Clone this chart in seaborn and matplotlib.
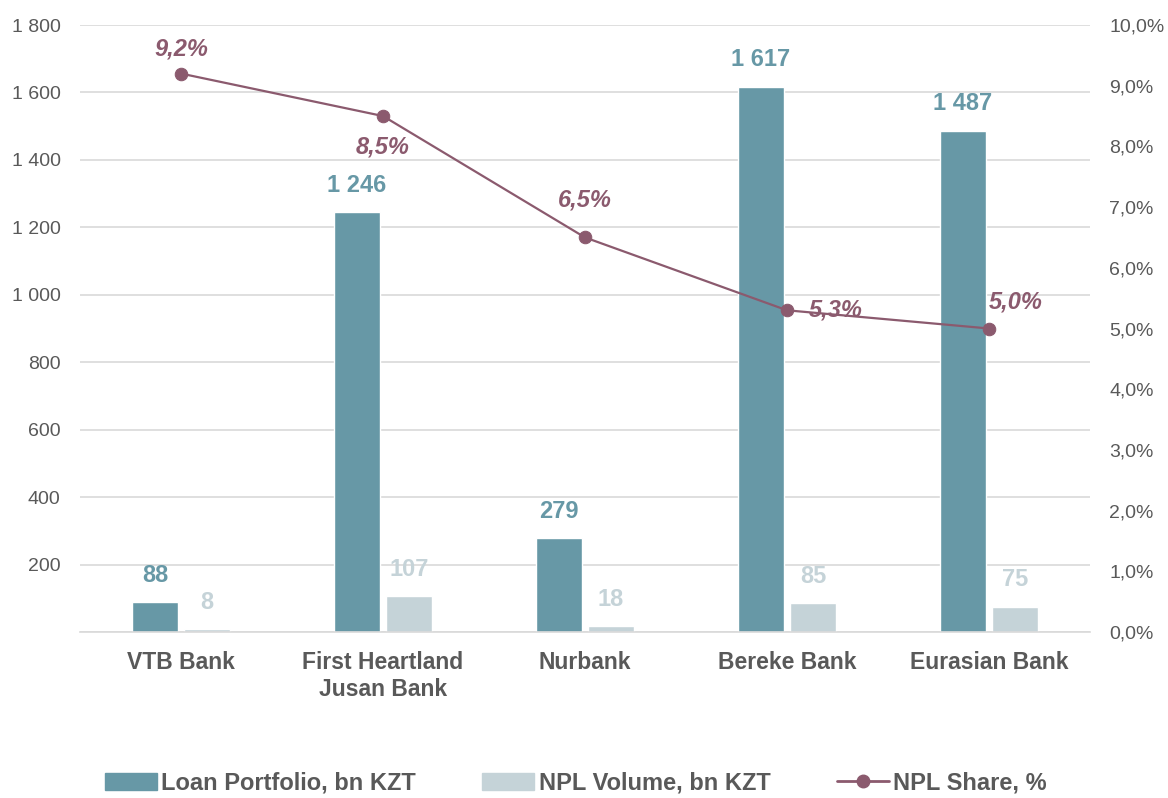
import matplotlib.pyplot as plt
import pandas as pd
import seaborn as sns
from matplotlib.lines import Line2D
from matplotlib.patches import Patch
from matplotlib.ticker import FuncFormatter, MultipleLocator

sns.set_theme(style="white")
plt.rcParams["font.family"] = ["Liberation Sans Narrow", "Liberation Sans", "DejaVu Sans"]

# Data
banks = ["VTB Bank", "First Heartland\nJusan Bank", "Nurbank", "Bereke Bank", "Eurasian Bank"]
loan_portfolio = [88, 1246, 279, 1617, 1487]
npl_volume = [8, 107, 18, 85, 75]
npl_share = [9.2, 8.5, 6.5, 5.3, 5.0]

LOAN_NAME = "Loan Portfolio, bn KZT"
NPL_NAME = "NPL Volume, bn KZT"
SHARE_NAME = "NPL Share, %"

LOAN_COLOR = "#6798a6"
NPL_COLOR = "#c5d3d8"
LINE_COLOR = "#8b5a6e"
TEXT_COLOR = "#595959"

df = pd.DataFrame({"bank": banks, LOAN_NAME: loan_portfolio, NPL_NAME: npl_volume})
df_long = df.melt(id_vars="bank", var_name="series", value_name="value")
df_line = pd.DataFrame({"bank": banks, "share": npl_share})

fig = plt.figure(figsize=(11.68, 7.98), dpi=100)
ax = fig.add_axes([80 / 1168, 1 - 632 / 798, 1010 / 1168, 607 / 798])

sns.barplot(
    data=df_long, x="bank", y="value", hue="series",
    palette=[LOAN_COLOR, NPL_COLOR], width=0.515, gap=0.12, saturation=1,
    ax=ax, legend=False, errorbar=None,
)

def space_fmt(v):
    return f"{int(round(v)):,}".replace(",", " ")

for cont, col in zip(ax.containers, [LOAN_COLOR, NPL_COLOR]):
    ax.bar_label(cont, labels=[space_fmt(b.get_height()) for b in cont],
                 padding=11, color=col, fontsize=17, fontweight="bold")

ax.set_ylim(0, 1800)
ax.yaxis.set_major_locator(MultipleLocator(200))
ax.yaxis.set_major_formatter(FuncFormatter(lambda v, p: "" if v == 0 else space_fmt(v)))
ax.grid(axis="y", color="#d9d9d9", linewidth=1.2)
ax.set_axisbelow(True)
ax.set_xlabel("")
ax.set_ylabel("")
for s in ["top", "right", "left"]:
    ax.spines[s].set_visible(False)
ax.spines["bottom"].set_color("#d9d9d9")
ax.spines["bottom"].set_linewidth(1.2)
ax.tick_params(axis="y", labelsize=14, colors=TEXT_COLOR, length=0, pad=14)
ax.tick_params(axis="x", labelsize=16.5, colors=TEXT_COLOR, length=0, pad=14)
for t in ax.get_xticklabels():
    t.set_fontweight("bold")
ax.set_xlim(-0.5, len(banks) - 0.5)

ax2 = ax.twinx()
sns.lineplot(data=df_line, x="bank", y="share", ax=ax2, color=LINE_COLOR,
             marker="o", markersize=9, linewidth=1.6, markeredgecolor=LINE_COLOR, sort=False)
ax2.set_ylim(0, 10)
ax2.yaxis.set_major_locator(MultipleLocator(1))
ax2.yaxis.set_major_formatter(FuncFormatter(lambda v, p: f"{v:.1f}%".replace(".", ",")))
ax2.tick_params(axis="y", labelsize=14, colors=TEXT_COLOR, length=0, pad=14)
ax2.set_ylabel("")
ax2.set_xlabel("")
for s in ax2.spines.values():
    s.set_visible(False)
ax2.grid(False)

offsets = [(0, 18), (0, -22), (0, 27), (35, 0), (19, 19)]
for i, (v, off) in enumerate(zip(npl_share, offsets)):
    ax2.annotate(f"{v:.1f}%".replace(".", ","), (i, v), xytext=off, textcoords="offset points",
                 ha="center", va="center", color=LINE_COLOR, fontsize=17,
                 fontweight="bold", fontstyle="italic")

handles = [
    Patch(color=LOAN_COLOR, label=LOAN_NAME),
    Patch(color=NPL_COLOR, label=NPL_NAME),
    Line2D([0], [0], color=LINE_COLOR, marker="o", markersize=9, linewidth=2, label=SHARE_NAME),
]
leg = fig.legend(handles=handles, loc="center", bbox_to_anchor=(0.493, 1 - 783 / 798), ncol=3,
                 frameon=False, columnspacing=2.8, handlelength=2.2, handletextpad=0.2,
                 prop={"size": 17, "weight": "bold"})
for t in leg.get_texts():
    t.set_color(TEXT_COLOR)

fig.savefig("out.png", dpi=100)
